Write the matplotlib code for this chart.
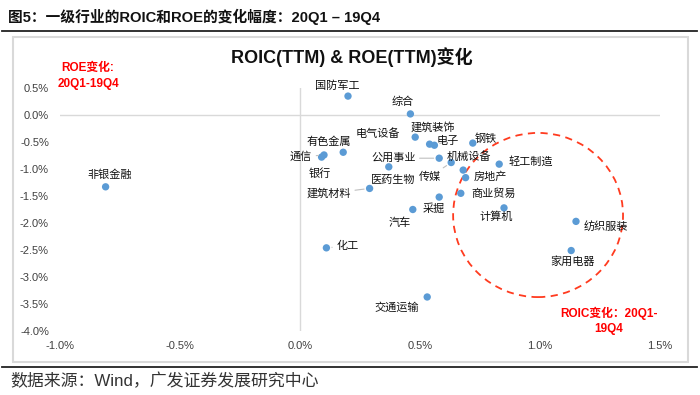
import matplotlib

matplotlib.use("Agg")
import matplotlib.pyplot as plt
from matplotlib.patches import Ellipse, Rectangle
from matplotlib.lines import Line2D
from matplotlib.ticker import FuncFormatter, MultipleLocator

plt.rcParams["font.family"] = ["Liberation Sans", "Noto Sans CJK SC", "DejaVu Sans"]

# change in ROIC (x) and ROE (y), percentage points, 20Q1 vs 19Q4
industries = ["国防军工", "综合", "电气设备", "建筑装饰", "电子", "钢铁", "有色金属", "通信", "银行",
              "公用事业", "传媒", "机械设备", "房地产", "轻工制造", "医药生物", "建筑材料", "商业贸易",
              "采掘", "汽车", "计算机", "纺织服装", "家用电器", "化工", "交通运输", "非银金融"]
roic_chg = [0.20, 0.46, 0.48, 0.54, 0.56, 0.72, 0.18, 0.10, 0.09,
            0.58, 0.63, 0.68, 0.69, 0.83, 0.37, 0.29, 0.67,
            0.58, 0.47, 0.85, 1.15, 1.13, 0.11, 0.53, -0.81]
roe_chg = [0.35, 0.02, -0.41, -0.54, -0.56, -0.52, -0.69, -0.74, -0.78,
           -0.80, -0.88, -1.02, -1.16, -0.91, -0.96, -1.36, -1.45,
           -1.52, -1.75, -1.72, -1.97, -2.51, -2.46, -3.37, -1.33]

# label placement (pixels from the dot, y up) and which ones get a leader line
label_offsets = {
    "国防军工": (-11, 10), "综合": (-8, 12), "电气设备": (-37, 4), "建筑装饰": (3, 17),
    "电子": (13, 4), "钢铁": (13, 4), "有色金属": (-14, 11), "通信": (-23, -2),
    "银行": (-2, -16), "公用事业": (-46, 0), "传媒": (-21, -14), "机械设备": (6, 13),
    "房地产": (25, 1), "轻工制造": (32, 3), "医药生物": (4, -13), "建筑材料": (-41, -5),
    "商业贸易": (33, 0), "采掘": (-5, -12), "汽车": (-13, -13), "计算机": (-8, -9),
    "纺织服装": (30, -5), "家用电器": (1, -11), "化工": (21, 2), "交通运输": (-30, -11),
    "非银金融": (4, 12),
}
leaders = {"通信", "电子", "公用事业", "传媒", "建筑材料", "化工"}

W, H = 700, 395
fig = plt.figure(figsize=(W / 100, H / 100), dpi=100)


def fx(px):
    return px / W


def fy(py):
    return 1 - py / H


# frame, rules and page texts
fig.add_artist(Rectangle((fx(13), fy(362)), fx(688) - fx(13), fy(37) - fy(362),
                         transform=fig.transFigure, fill=False, edgecolor="#d9d9d9", lw=1.5))
fig.add_artist(Line2D([fx(2), fx(697)], [fy(31), fy(31)], transform=fig.transFigure, color="#222222", lw=1.3))
fig.add_artist(Line2D([fx(2), fx(697)], [fy(367), fy(367)], transform=fig.transFigure, color="#222222", lw=1.3))
fig.text(fx(8), fy(17), "图5：一级行业的ROIC和ROE的变化幅度：20Q1 – 19Q4", fontsize=10.6,
         fontweight="bold", ha="left", va="center", color="#111111")
fig.text(fx(10), fy(381), "数据来源：Wind，广发证券发展研究中心", fontsize=12.2,
         ha="left", va="center", color="#333333")
fig.text(fx(352), fy(57), "ROIC(TTM) & ROE(TTM)变化", fontsize=13, fontweight="bold",
         ha="center", va="center", color="#111111")

ax = fig.add_axes([fx(60), fy(331), fx(660) - fx(60), fy(88) - fy(331)])
ax.set_xlim(-1.0, 1.5)
ax.set_ylim(-4.0, 0.5)
for s in ax.spines.values():
    s.set_visible(False)
ax.axhline(0, color="#d9d9d9", lw=1, zorder=1)
ax.axvline(0, color="#d9d9d9", lw=1, zorder=1)
ax.xaxis.set_major_locator(MultipleLocator(0.5))
ax.yaxis.set_major_locator(MultipleLocator(0.5))
pct = FuncFormatter(lambda v, _: f"{v:.1f}%".replace("-0.0", "0.0"))
ax.xaxis.set_major_formatter(pct)
ax.yaxis.set_major_formatter(pct)
ax.tick_params(length=0, labelsize=8, labelcolor="#404040")
ax.tick_params(axis="y", pad=8)
ax.tick_params(axis="x", pad=7)
ax.patch.set_alpha(0)

ax.scatter(roic_chg, roe_chg, s=28, color="#5B9BD5", zorder=3, edgecolors="none")

for name, x, y in zip(industries, roic_chg, roe_chg):
    dx, dy = label_offsets[name]
    arrow = None
    if name in leaders:
        arrow = dict(arrowstyle="-", color="#bfbfbf", lw=0.8, shrinkA=1, shrinkB=4)
    ax.annotate(name, (x, y), xytext=(dx, dy), textcoords="offset pixels",
                ha="center", va="center", fontsize=8, family=["Noto Sans CJK SC"],
                color="#111111", arrowprops=arrow, zorder=4)

ax.add_patch(Ellipse((0.992, -1.852), 0.708, 3.04, fill=False, edgecolor="#FF3B1F",
                     linestyle=(0, (4, 3)), lw=1.3, zorder=2))

fig.text(fx(88), fy(76), "ROE变化:\n20Q1-19Q4", fontsize=8.5, fontweight="bold",
         color="#FF0000", ha="center", va="center", linespacing=1.5)
fig.text(fx(609), fy(321), "ROIC变化：20Q1-\n19Q4", fontsize=8.5, fontweight="bold",
         color="#FF0000", ha="center", va="center", linespacing=1.3)

fig.savefig("out.png", dpi=100)
